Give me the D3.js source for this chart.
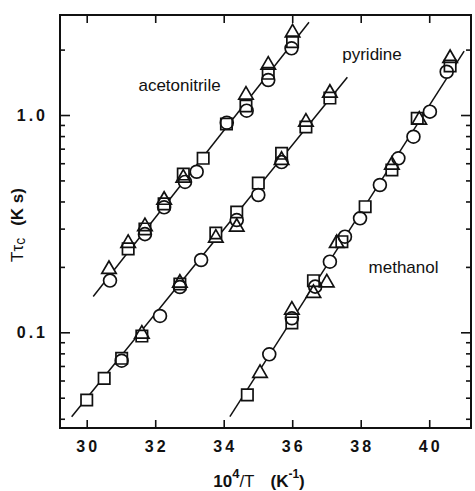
<!DOCTYPE html>
<html>
<head>
<meta charset="utf-8">
<script src="https://cdn.jsdelivr.net/npm/d3@7"></script>
<style>
  html, body { margin: 0; padding: 0; background: #fff; }
  svg { display: block; }
  text { font-family: "Liberation Sans", Arial, sans-serif; fill: #111; }
</style>
</head>
<body>
<svg id="chart" width="475" height="491"></svg>
<script>
// ---- Data ----
const solvents = ["acetonitrile", "pyridine", "methanol"];

// acetonitrile
const acnCircleX = [30.68, 31.70, 32.26, 32.87, 33.21, 34.09, 34.67, 35.30, 35.98];
const acnCircleY = [0.173, 0.283, 0.376, 0.492, 0.548, 0.922, 1.047, 1.449, 2.028];
const acnSquareX = [31.21, 31.70, 32.26, 32.82, 33.40, 34.08, 34.65, 35.30, 36.01];
const acnSquareY = [0.242, 0.299, 0.390, 0.535, 0.632, 0.909, 1.100, 1.556, 2.175];
const acnTriX = [30.65, 31.21, 31.70, 32.26, 32.82, 34.65, 35.30, 36.01];
const acnTriY = [0.195, 0.257, 0.307, 0.406, 0.513, 1.236, 1.700, 2.392];
const acnFitX = [30.19, 36.49];
const acnFitY = [0.146, 2.672];

// pyridine
const pyrCircleX = [31.02, 32.14, 32.72, 33.34, 34.38, 35.01, 35.69];
const pyrCircleY = [0.0740, 0.1189, 0.1616, 0.2151, 0.3286, 0.4284, 0.6075];
const pyrSquareX = [30.00, 30.51, 31.02, 31.61, 32.72, 33.77, 34.38, 35.01, 35.69, 36.40, 37.10];
const pyrSquareY = [0.0488, 0.0614, 0.0759, 0.0961, 0.1668, 0.2864, 0.3578, 0.4864, 0.6665, 0.8807, 1.197];
const pyrTriX = [31.61, 32.72, 33.77, 34.38, 35.69, 36.40, 37.10];
const pyrTriY = [0.0982, 0.1685, 0.2716, 0.3051, 0.6200, 0.9285, 1.262];
const pyrFitX = [29.56, 37.61];
const pyrFitY = [0.0409, 1.491];

// methanol
const meoCircleX = [35.33, 35.99, 36.67, 37.10, 37.54, 37.98, 38.56, 39.10, 39.54, 40.02, 40.51];
const meoCircleY = [0.0792, 0.1160, 0.1622, 0.2113, 0.2754, 0.3346, 0.4763, 0.6320, 0.7946, 1.036, 1.582];
const meoSquareX = [34.69, 35.99, 36.62, 37.45, 38.13, 38.91, 39.65, 40.61];
const meoSquareY = [0.0515, 0.1104, 0.1728, 0.2612, 0.3784, 0.5583, 0.9657, 1.681];
const meoTriX = [35.06, 35.99, 36.62, 37.01, 37.30, 38.91, 39.71, 40.61];
const meoTriY = [0.0648, 0.1267, 0.1512, 0.1692, 0.2568, 0.5887, 0.9484, 1.824];
const meoFitX = [34.18, 41.02];
const meoFitY = [0.0409, 1.97];

const xTicks = [30, 32, 34, 36, 38, 40];
const yMajorTicks = [0.1, 1.0];
const yTickLabels = ["0.1", "1.0"];
const yMinorTicks = [0.04, 0.05, 0.06, 0.07, 0.08, 0.09, 0.2, 0.3, 0.4, 0.5, 0.6, 0.7, 0.8, 0.9, 2];

const labelText = ["acetonitrile", "pyridine", "methanol"];
const labelX = [32.71, 38.33, 39.25];
const labelY = [1.296, 1.79, 0.1875];

// ---- Layout ----
const L = 60, R = 471, T = 15, B = 428;
const svg = d3.select("#chart");
const x = d3.scaleLinear().domain([29.22, 41.22]).range([L, R]);
const y = d3.scaleLog().domain([0.03627, 2.886]).range([B, T]);

// Frame
svg.append("rect").attr("x", L).attr("y", T).attr("width", R - L).attr("height", B - T)
  .attr("fill", "none").attr("stroke", "#111").attr("stroke-width", 2);

// Axes with inward ticks
const gB = svg.append("g").attr("transform", `translate(0,${B})`)
  .call(d3.axisTop(x).tickValues(xTicks).tickSize(8).tickFormat(""));
const gT = svg.append("g").attr("transform", `translate(0,${T})`)
  .call(d3.axisBottom(x).tickValues(xTicks).tickSize(8).tickFormat(""));
const gL = svg.append("g").attr("transform", `translate(${L},0)`)
  .call(d3.axisRight(y).tickValues(yMajorTicks).tickSize(10).tickFormat(""));
const gLm = svg.append("g").attr("transform", `translate(${L},0)`)
  .call(d3.axisRight(y).tickValues(yMinorTicks).tickSize(5).tickFormat(""));
const gR = svg.append("g").attr("transform", `translate(${R},0)`)
  .call(d3.axisLeft(y).tickValues(yMajorTicks).tickSize(10).tickFormat(""));
const gRm = svg.append("g").attr("transform", `translate(${R},0)`)
  .call(d3.axisLeft(y).tickValues(yMinorTicks).tickSize(5).tickFormat(""));
[gB, gT, gL, gLm, gR, gRm].forEach(g => {
  g.select(".domain").remove();
  g.selectAll("line").attr("stroke", "#111").attr("stroke-width", 1.6);
});

// Tick labels
svg.append("g").selectAll("text").data(xTicks).join("text")
  .attr("x", d => x(d) + 1.5).attr("y", 452)
  .attr("text-anchor", "middle")
  .style("font-size", "16px").style("font-weight", "bold").style("letter-spacing", "3px")
  .text(d => d);
svg.append("g").selectAll("text").data(yMajorTicks).join("text")
  .attr("x", 48).attr("y", d => y(d) + 6)
  .attr("text-anchor", "end")
  .style("font-size", "16px").style("font-weight", "bold").style("letter-spacing", "3px")
  .text((d, i) => yTickLabels[i]);

// Axis titles
const xt = svg.append("text").attr("x", 259).attr("y", 487).attr("text-anchor", "middle")
  .style("font-size", "17px").style("font-weight", "bold");
xt.append("tspan").text("10");
xt.append("tspan").attr("dy", -9).style("font-size", "13px").text("4");
xt.append("tspan").attr("dy", 9).style("font-weight", "normal").text("/T");
xt.append("tspan").attr("dx", 16).text("(K");
xt.append("tspan").attr("dy", -9).style("font-size", "12px").text("-1");
xt.append("tspan").attr("dy", 9).text(")");

const yt = svg.append("text").attr("transform", "translate(23,225) rotate(-90)")
  .attr("text-anchor", "middle")
  .style("font-size", "17px").style("font-weight", "bold");
yt.append("tspan").style("font-weight", "normal").text("Tτ");
yt.append("tspan").attr("dy", 2).style("font-weight", "normal").style("font-size", "14px").text("c");
yt.append("tspan").attr("dy", -2).attr("dx", 12).text("(K s)");

// Series
const series = [
  { fx: acnFitX, fy: acnFitY, c: [acnCircleX, acnCircleY], s: [acnSquareX, acnSquareY], t: [acnTriX, acnTriY] },
  { fx: pyrFitX, fy: pyrFitY, c: [pyrCircleX, pyrCircleY], s: [pyrSquareX, pyrSquareY], t: [pyrTriX, pyrTriY] },
  { fx: meoFitX, fy: meoFitY, c: [meoCircleX, meoCircleY], s: [meoSquareX, meoSquareY], t: [meoTriX, meoTriY] }
];

const line = d3.line().x(d => x(d[0])).y(d => y(d[1]));
series.forEach(sr => {
  svg.append("path").datum(sr.fx.map((v, i) => [v, sr.fy[i]]))
    .attr("d", line).attr("fill", "none").attr("stroke", "#111").attr("stroke-width", 1.5);
});

const pts = [];
series.forEach(sr => {
  sr.c[0].forEach((v, i) => pts.push({ x: v, y: sr.c[1][i], type: d3.symbolCircle, size: 130 }));
  sr.s[0].forEach((v, i) => pts.push({ x: v, y: sr.s[1][i], type: d3.symbolSquare, size: 130 }));
  sr.t[0].forEach((v, i) => pts.push({ x: v, y: sr.t[1][i], type: d3.symbolTriangle, size: 90 }));
});
const sym = d => d3.symbol().type(d.type).size(d.size)();
// white fills first, then all outlines so overlapping outlines stay visible
svg.append("g").selectAll("path").data(pts).join("path")
  .attr("transform", d => `translate(${x(d.x)},${y(d.y)})`)
  .attr("d", sym).attr("fill", "#fff").attr("stroke", "none");
svg.append("g").selectAll("path").data(pts).join("path")
  .attr("transform", d => `translate(${x(d.x)},${y(d.y)})`)
  .attr("d", sym).attr("fill", "none").attr("stroke", "#111").attr("stroke-width", 1.7);

// Solvent labels
svg.append("g").selectAll("text").data(labelText).join("text")
  .attr("x", (d, i) => x(labelX[i])).attr("y", (d, i) => y(labelY[i]))
  .attr("text-anchor", "middle")
  .style("font-size", "17px")
  .text(d => d);
</script>
</body>
</html>
